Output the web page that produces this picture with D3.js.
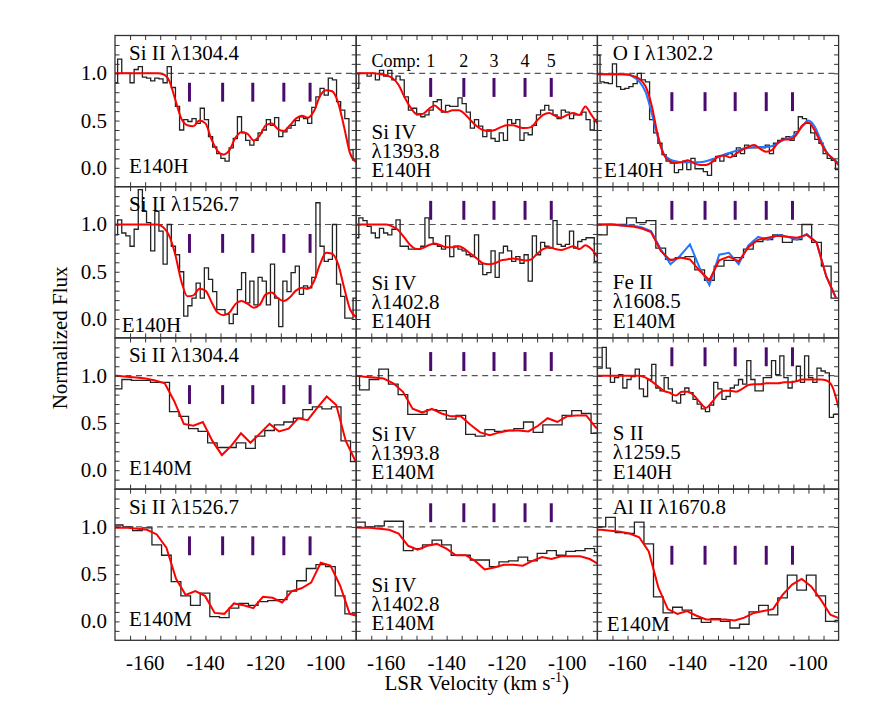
<!DOCTYPE html>
<html><head><meta charset="utf-8">
<script src="https://cdn.jsdelivr.net/npm/d3@7"></script>
<style>
body{margin:0;background:#fff}
svg{display:block}
</style>
</head><body>
<svg id="c" width="872" height="714"></svg>
<script>
// ---------------- DATA ----------------
const ionNames    = ["Si II","Si IV","O I","Si II","Si IV","Fe II","Si II","Si IV","S II","Si II","Si IV","Al II"];
const lambdas     = ["1304.4","1393.8","1302.2","1526.7","1402.8","1608.5","1304.4","1393.8","1259.5","1526.7","1402.8","1670.8"];
const instruments = ["E140H","E140H","E140H","E140H","E140H","E140M","E140M","E140M","E140H","E140M","E140M","E140M"];
const compVel   = [-145.3,-134.3,-124.3,-114.0,-105.3];
const compNames = ["1","2","3","4","5"];
const markerLo  = [0.70,0.75,0.60, 0.70,1.05,1.05, 0.70,1.05,1.10, 0.70,1.05,0.60];
const markerHi  = [0.90,0.95,0.80, 0.90,1.25,1.25, 0.90,1.25,1.30, 0.90,1.25,0.80];
const xTickLabels = [-160,-140,-120,-100];
const yTickLabels = [0.0,0.5,1.0];

// histogram bins: first bin edge and bin width (km/s) per panel
const binStart = [-170.5,-170.5,-170.5,-170.5,-170.5,-170.0,-170.88,-172.1,-171.16,-170.55,-170.19,-170.41];
const binStep  = [1.37,1.37,1.37,1.37,1.37,3.23,3.16,3.2,1.37,3.2,3.17,3.17];

const fluxP1 = [0.90,1.15,1.00,1.00,0.90,1.04,1.07,0.96,0.95,0.92,0.95,0.94,0.90,1.07,0.85,0.65,0.40,0.51,0.49,0.52,0.47,0.63,0.51,0.33,0.22,0.15,0.10,0.07,0.21,0.31,0.54,0.37,0.29,0.24,0.29,0.37,0.40,0.51,0.45,0.53,0.33,0.38,0.42,0.45,0.50,0.54,0.52,0.47,0.64,0.75,0.84,0.77,0.95,0.93,0.70,0.61,0.52,0.19,0.08];
const fluxP2 = [0.84,1.00,1.00,0.97,1.00,0.93,1.03,0.97,1.03,0.93,0.97,0.93,0.75,0.61,0.63,0.56,0.54,0.56,0.61,0.70,0.72,0.59,0.66,0.65,0.65,0.74,0.68,0.59,0.42,0.51,0.44,0.33,0.40,0.31,0.28,0.37,0.29,0.51,0.47,0.51,0.29,0.37,0.35,0.45,0.56,0.61,0.66,0.61,0.56,0.52,0.61,0.59,0.52,0.56,0.56,0.59,0.51,0.40,0.51,0.51];
const fluxP3 = [1.19,0.91,0.90,0.89,1.10,0.86,0.83,0.84,0.86,0.89,1.00,0.93,0.91,0.51,0.37,0.26,0.14,0.07,0.05,-0.05,-0.02,0.07,-0.02,0.10,-0.01,-0.01,-0.04,-0.08,0.07,0.12,0.07,0.14,0.15,0.12,0.21,0.15,0.24,0.21,0.21,0.22,0.21,0.24,0.15,0.26,0.29,0.31,0.33,0.29,0.38,0.54,0.52,0.47,0.37,0.30,0.26,0.15,0.10,0.08,-0.02,-0.02];
const fluxP4 = [0.89,1.05,0.91,0.88,0.77,0.95,1.37,1.14,1.02,0.72,1.14,0.93,0.58,1.00,0.77,0.68,0.50,0.03,0.14,0.22,0.38,0.22,0.54,0.42,0.29,0.10,0.10,0.05,-0.05,0.05,0.31,0.49,0.17,0.40,0.15,0.44,0.40,0.15,0.58,0.22,-0.08,0.40,0.29,0.49,0.56,0.26,0.35,0.33,0.44,1.23,0.77,0.61,0.63,1.00,0.37,0.24,0.01,0.01,0.22];
const fluxP5 = [0.86,1.07,1.04,0.98,0.91,0.86,0.96,0.91,0.89,0.95,1.05,0.77,0.77,0.74,0.74,0.74,0.77,1.07,0.86,0.79,0.77,0.74,0.88,0.66,0.77,0.74,0.72,0.68,0.66,0.89,0.58,0.47,0.49,0.72,0.44,0.70,0.77,0.72,0.61,0.66,0.59,0.68,0.40,0.88,0.68,0.81,0.77,0.75,1.04,0.79,0.77,0.79,0.93,0.75,0.82,0.84,0.86,0.86,0.61,0.61];
const fluxP6 = [0.89,1.00,1.00,1.07,1.02,1.04,0.75,0.63,0.65,0.66,0.52,0.41,0.56,0.62,0.65,0.74,0.82,0.84,0.89,0.81,0.84,1.00,0.81,0.56,0.22];
const fluxP7 = [0.86,0.96,0.95,0.95,0.93,0.93,0.62,0.57,0.44,0.41,0.29,0.24,0.24,0.29,0.23,0.36,0.42,0.48,0.51,0.55,0.64,0.67,0.65,0.67,0.31,0.09];
const fluxP8 = [1.00,0.85,0.96,1.07,0.91,0.80,0.59,0.59,0.64,0.63,0.54,0.58,0.38,0.36,0.43,0.41,0.42,0.44,0.51,0.40,0.48,0.48,0.58,0.63,0.60,0.39];
const fluxP9 = [1.08,1.08,1.30,1.08,0.93,0.98,1.01,0.87,0.96,0.99,1.07,0.86,0.78,0.96,1.12,0.87,0.84,0.98,0.86,0.73,0.71,0.80,0.87,0.82,0.75,0.70,0.65,0.62,0.69,0.93,0.86,0.75,0.78,0.87,0.90,0.96,0.91,1.16,0.96,0.84,0.84,0.98,0.98,1.16,1.01,1.21,0.98,0.87,0.94,1.10,0.93,1.21,0.98,0.93,1.08,1.05,1.03,0.56,0.59,0.59];
const fluxP10 = [1.02,1.00,0.96,0.99,0.81,0.70,0.42,0.27,0.17,0.30,0.05,0.04,0.14,0.19,0.17,0.21,0.22,0.23,0.32,0.43,0.56,0.60,0.58,0.27,0.08,0.08];
const fluxP11 = [1.05,1.00,1.01,1.06,1.06,0.75,0.77,0.81,0.86,0.81,0.70,0.70,0.65,0.65,0.58,0.63,0.64,0.68,0.64,0.72,0.75,0.70,0.74,0.75,0.77,0.73];
const fluxP12 = [1.00,1.10,0.94,0.93,1.05,0.82,0.26,0.09,0.15,0.12,0.03,-0.01,0.03,0.00,-0.07,-0.03,0.10,0.17,0.07,0.25,0.49,0.33,0.49,0.27,0.00,0.01];

// model (red) curves: first sample velocity and spacing per panel
const modelStart = [-170,-170,-170,-170,-170,-171.6,-172.46,-170.5,-170,-172.15,-171.78,-171.99];
const modelStep  = [2,2,2,2,2,3.23,3.16,3.2,2,3.2,3.17,3.17];
const modelP1 = [1.0,1.0,1.0,1.0,1.0,1.0,1.0,1.0,0.99,0.92,0.72,0.52,0.45,0.44,0.50,0.47,0.30,0.18,0.14,0.19,0.32,0.38,0.36,0.29,0.34,0.45,0.47,0.41,0.39,0.45,0.52,0.55,0.53,0.60,0.76,0.82,0.81,0.69,0.43,0.15,0.06];
const modelP2 = [1.0,1.0,1.0,1.0,0.99,0.98,0.95,0.88,0.75,0.64,0.57,0.57,0.62,0.66,0.61,0.59,0.61,0.61,0.57,0.50,0.44,0.40,0.39,0.40,0.43,0.45,0.45,0.43,0.42,0.43,0.50,0.56,0.58,0.55,0.53,0.56,0.58,0.56,0.65,0.56,0.47];
const modelP3 = [0.99,0.99,0.99,0.99,0.99,0.985,0.97,0.94,0.86,0.66,0.35,0.14,0.07,0.05,0.06,0.08,0.05,0.03,0.03,0.06,0.12,0.13,0.11,0.15,0.19,0.22,0.24,0.20,0.17,0.19,0.27,0.30,0.30,0.35,0.45,0.48,0.40,0.27,0.16,0.10,0.03];
const modelP4 = [1,1,1,1,1,1,1,1,0.97,0.88,0.68,0.40,0.24,0.25,0.32,0.30,0.18,0.07,0.04,0.07,0.16,0.19,0.16,0.12,0.15,0.26,0.28,0.22,0.19,0.23,0.30,0.33,0.32,0.40,0.58,0.70,0.69,0.58,0.33,0.10,0.02];
const modelP5 = [1,1,1,1,1,1,0.98,0.94,0.86,0.78,0.74,0.75,0.78,0.80,0.78,0.76,0.76,0.77,0.74,0.69,0.64,0.59,0.58,0.59,0.62,0.63,0.64,0.63,0.62,0.63,0.69,0.74,0.76,0.74,0.73,0.75,0.77,0.74,0.78,0.74,0.66];
const modelP6 = [1.0,1.0,1.0,0.99,0.98,0.96,0.92,0.72,0.62,0.65,0.63,0.51,0.41,0.62,0.66,0.61,0.76,0.84,0.86,0.88,0.87,0.86,0.89,0.81,0.45,0.22];
const modelP7 = [1.0,1.0,0.99,0.98,0.97,0.95,0.92,0.73,0.49,0.47,0.51,0.31,0.16,0.26,0.39,0.29,0.39,0.49,0.41,0.44,0.55,0.53,0.66,0.78,0.69,0.31,0.10];
const modelP8 = [1.0,0.99,0.98,0.97,0.92,0.83,0.65,0.61,0.65,0.60,0.57,0.57,0.48,0.40,0.37,0.40,0.42,0.42,0.41,0.47,0.55,0.51,0.57,0.58,0.58,0.45,0.42];
const modelP9 = [1,1,1,1,1,1,1,1,0.98,0.94,0.89,0.84,0.82,0.79,0.83,0.83,0.79,0.72,0.66,0.72,0.80,0.84,0.84,0.83,0.86,0.90,0.91,0.91,0.92,0.92,0.92,0.93,0.93,0.94,0.96,0.96,0.96,0.96,0.95,0.88,0.66];
const modelP10 = [0.99,0.99,0.99,0.98,0.97,0.92,0.78,0.45,0.28,0.32,0.27,0.09,0.08,0.19,0.17,0.14,0.26,0.25,0.20,0.32,0.35,0.41,0.62,0.59,0.38,0.08,0.05];
const modelP11 = [1.0,0.99,0.99,0.98,0.97,0.93,0.80,0.76,0.80,0.82,0.77,0.70,0.70,0.64,0.55,0.57,0.60,0.60,0.59,0.64,0.68,0.66,0.69,0.69,0.69,0.66,0.60];
const modelP12 = [0.97,0.97,0.96,0.95,0.93,0.89,0.74,0.36,0.13,0.08,0.11,0.06,0.02,0.02,0.02,0.01,0.04,0.09,0.11,0.13,0.28,0.39,0.45,0.37,0.23,0.07,0.03];

// second (blue) model in two panels
const blueP3 = [0.99,0.99,0.99,0.99,0.99,0.99,0.96,0.91,0.80,0.58,0.33,0.15,0.09,0.07,0.06,0.06,0.06,0.06,0.07,0.09,0.11,0.14,0.16,0.18,0.20,0.21,0.22,0.22,0.22,0.23,0.26,0.30,0.32,0.36,0.44,0.50,0.44,0.30,0.17,0.10,0.05];
const blueP6 = [1.0,1.0,1.0,0.99,0.99,0.97,0.93,0.74,0.58,0.67,0.79,0.54,0.36,0.68,0.70,0.58,0.78,0.87,0.84,0.89,0.87,0.84,0.90,0.81,0.45,0.22];

const flux  = [fluxP1,fluxP2,fluxP3,fluxP4,fluxP5,fluxP6,fluxP7,fluxP8,fluxP9,fluxP10,fluxP11,fluxP12];
const model = [modelP1,modelP2,modelP3,modelP4,modelP5,modelP6,modelP7,modelP8,modelP9,modelP10,modelP11,modelP12];
const blue  = {2: blueP3, 5: blueP6};

// ---------------- LAYOUT ----------------
const FONT = "'Liberation Serif', Tinos, 'Times New Roman', 'DejaVu Serif', serif";
const svg = d3.select("#c").style("font-family", FONT);
const L = 115, T = 35.5, PW = 241.2, PH = 151.2;
const FS = 21;
const x = d3.scaleLinear().domain([-170,-90]).range([0,PW]);
const y = d3.scaleLinear().domain([-0.2,1.4]).range([PH,0]);

svg.append("defs").append("clipPath").attr("id","clip")
  .append("rect").attr("width",PW).attr("height",PH);

const histLine = d3.line().x(d=>x(d[0])).y(d=>y(d[1])).curve(d3.curveStepAfter);
const smoothLine = d3.line().x(d=>x(d[0])).y(d=>y(d[1])).curve(d3.curveMonotoneX);
const straightLine = d3.line().x(d=>x(d[0])).y(d=>y(d[1]));

function txt(sel){ return sel.append("text").style("font-family",FONT).attr("fill","#000"); }

flux.forEach((fl,k)=>{
  const r = Math.floor(k/3), c = k%3;
  const g = svg.append("g").attr("transform",`translate(${L+c*PW},${T+r*PH})`);
  const plot = g.append("g").attr("clip-path","url(#clip)");
  const isH = instruments[k]==="E140H";

  plot.append("line").attr("x1",0).attr("x2",PW).attr("y1",y(1)).attr("y2",y(1))
    .attr("stroke","#555").attr("stroke-width",1.2).attr("stroke-dasharray","6,4.5");

  const pts = fl.map((v,i)=>[binStart[k]+binStep[k]*i, v]);
  pts.push([binStart[k]+binStep[k]*fl.length, fl[fl.length-1]]);
  plot.append("path").attr("d",histLine(pts)).attr("fill","none")
    .attr("stroke","#222").attr("stroke-width",1.3);

  const lineGen = isH ? smoothLine : straightLine;
  if (blue[k]) {
    const bp = blue[k].map((v,i)=>[modelStart[k]+modelStep[k]*i, v]);
    plot.append("path").attr("d",lineGen(bp)).attr("fill","none")
      .attr("stroke","#1f78ff").attr("stroke-width",2);
  }
  const mp = model[k].map((v,i)=>[modelStart[k]+modelStep[k]*i, v]);
  plot.append("path").attr("d",lineGen(mp)).attr("fill","none")
    .attr("stroke","#ff0000").attr("stroke-width",2);

  // component markers
  g.selectAll(".mk").data(compVel).enter().append("line")
    .attr("x1",d=>x(d)).attr("x2",d=>x(d))
    .attr("y1",y(markerLo[k])).attr("y2",y(markerHi[k]))
    .attr("stroke","#4b0a6e").attr("stroke-width",3);

  // ticks
  const xt = d3.range(-165,-90,5), yt = d3.range(-1,14).map(i=>i/10);
  g.append("g").attr("transform",`translate(0,${PH})`)
    .call(d3.axisBottom(x).tickValues(xt).tickSize(-4.5).tickFormat(""))
    .call(a=>a.select(".domain").remove());
  g.append("g")
    .call(d3.axisTop(x).tickValues(xt).tickSize(-4.5).tickFormat(""))
    .call(a=>a.select(".domain").remove());
  g.append("g")
    .call(d3.axisLeft(y).tickValues(yt).tickSize(-4.5).tickFormat(""))
    .call(a=>a.select(".domain").remove());
  g.append("g").attr("transform",`translate(${PW},0)`)
    .call(d3.axisRight(y).tickValues(yt).tickSize(-4.5).tickFormat(""))
    .call(a=>a.select(".domain").remove());
  g.selectAll(".tick line").attr("stroke","#333").attr("stroke-width",1);

  g.append("rect").attr("width",PW).attr("height",PH).attr("fill","none")
    .attr("stroke","#333").attr("stroke-width",1.3);

  // tick labels
  if (r===3) {
    xTickLabels.forEach(d=>{
      txt(g).attr("x",x(d)).attr("y",PH+29.5).attr("text-anchor","middle")
        .attr("font-size",FS).text(d);
    });
  }
  if (c===0) {
    yTickLabels.forEach(d=>{
      txt(g).attr("x",-8).attr("y",y(d)+7).attr("text-anchor","end")
        .attr("font-size",FS).text(d.toFixed(1));
    });
  }

  // panel labels
  const single = (c===0) || k===2 || k===11;
  if (single) {
    txt(g).attr("x",c===0?14:15.3).attr("y",24.5).attr("font-size",FS)
      .text(ionNames[k]+" \u03bb"+lambdas[k]);
    let ix = 14, iy = PH-14;
    if (k===3){ix=6.7; iy=PH-6.2;}
    if (k===2){ix=6.6; iy=PH-10;}
    if (k===11){ix=9.3; iy=PH-8.8;}
    txt(g).attr("x",ix).attr("y",iy).attr("font-size",FS).text(instruments[k]);
  } else {
    const lines = [ionNames[k], "\u03bb"+lambdas[k], instruments[k]];
    const offs = c===1 ? [47.8,29,9.8] : [49,30,10.3];
    lines.forEach((t,j)=>{
      txt(g).attr("x",15.4).attr("y",PH-offs[j]).attr("font-size",FS).text(t);
    });
  }

  if (k===1) {
    txt(g).attr("x",15.4).attr("y",31.8).attr("font-size",18).text("Comp:");
    compNames.forEach((d,i)=>{
      txt(g).attr("x",x(compVel[i])).attr("y",31.8).attr("text-anchor","middle")
        .attr("font-size",18).text(d);
    });
  }
});

// axis titles
txt(svg).attr("transform",`translate(67,${T+2*PH}) rotate(-90)`)
  .attr("text-anchor","middle").attr("font-size",FS).text("Normalized Flux");
const xtl = txt(svg).attr("x",L+1.5*PW).attr("y",690).attr("text-anchor","middle").attr("font-size",FS);
xtl.append("tspan").text("LSR Velocity (km s");
xtl.append("tspan").attr("font-size",14).attr("dy",-8).text("-1");
xtl.append("tspan").attr("dy",8).text(")");
</script>
</body></html>
